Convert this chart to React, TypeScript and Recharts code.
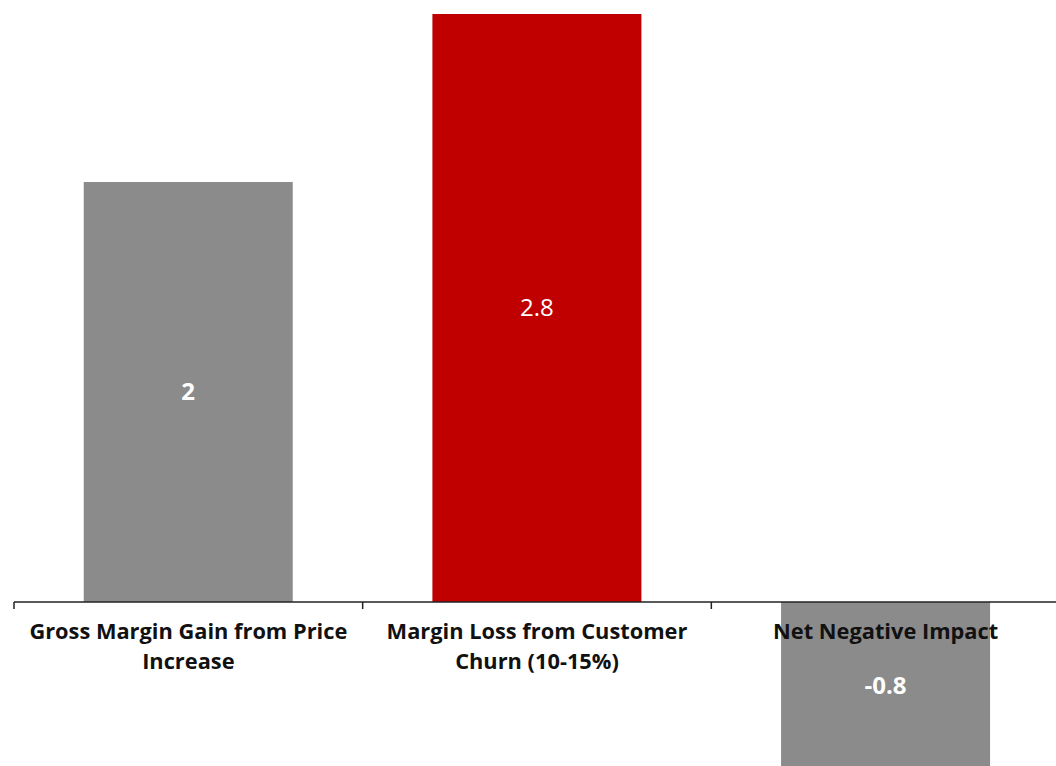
import React from "react";
import { BarChart, Bar, XAxis, YAxis, Cell, LabelList, ReferenceLine } from "recharts";

const categories = [
  "Gross Margin Gain from Price Increase",
  "Margin Loss from Customer Churn (10-15%)",
  "Net Negative Impact",
];
const categoryLines = [
  ["Gross Margin Gain from Price", "Increase"],
  ["Margin Loss from Customer", "Churn (10-15%)"],
  ["Net Negative Impact"],
];
const values = [2, 2.8, -0.8];
const valueLabels = ["2", "2.8", "-0.8"];
const barColors = ["#8b8b8b", "#c00000", "#8b8b8b"];
const labelWeights = [700, 400, 700];

const data = categories.map((c, i) => ({ name: c, value: values[i] }));

const LABEL_FONT = "'Open Sans', Lato, sans-serif";
const VALUE_FONT = "'Open Sans', 'Noto Sans', sans-serif";

function AxisDecor(props: any) {
  const vb = props.viewBox || {};
  const x0 = vb.x ?? 0;
  const y0 = vb.y ?? 0;
  const w = vb.width ?? 0;
  const n = categories.length;
  const band = w / n;
  const ticks = [];
  for (let i = 0; i <= n; i++) {
    const tx = x0 + band * i;
    ticks.push(<line key={"t" + i} x1={tx} x2={tx} y1={y0} y2={y0 + 7} stroke="#222" strokeWidth={1.5} />);
  }
  const texts = [];
  categoryLines.forEach((lines, i) => {
    lines.forEach((l, j) => {
      texts.push(
        <text
          key={"c" + i + "-" + j}
          x={x0 + band * (i + 0.5)}
          y={y0 + 37 + j * 30}
          textAnchor="middle"
          fontFamily={LABEL_FONT}
          fontWeight={700}
          fontSize={21.8}
          fill="#111"
        >
          {l}
        </text>
      );
    });
  });
  return (
    <g>
      {ticks}
      {texts}
    </g>
  );
}

function ValueLabel(props: any) {
  const { x, y, width, height, index } = props;
  const cx = Number(x) + Number(width) / 2;
  const cy = Number(y) + Number(height) / 2;
  return (
    <text
      x={cx}
      y={cy}
      dy={8}
      textAnchor="middle"
      fill="#ffffff"
      fontFamily={VALUE_FONT}
      fontWeight={labelWeights[index]}
      fontSize={24}
    >
      {valueLabels[index]}
    </text>
  );
}

export default function App() {
  return (
    <div style={{ position: "fixed", left: 0, top: 0, width: 1056, height: 766, overflow: "hidden", background: "#fff" }}>
      <BarChart
        width={1060}
        height={770}
        data={data}
        margin={{ top: 14, left: 14, right: 0, bottom: 0 }}
        barCategoryGap="20%"
      >
        <XAxis dataKey="name" hide />
        <YAxis hide domain={[-0.8, 2.8]} />
        <Bar dataKey="value" isAnimationActive={false}>
          {data.map((d, i) => (
            <Cell key={i} fill={barColors[i]} />
          ))}
          <LabelList dataKey="value" content={<ValueLabel />} />
        </Bar>
        <ReferenceLine
          y={0}
          stroke="#222"
          strokeWidth={1.5}
          isFront
          label={(p: any) => <AxisDecor {...p} />}
        />
      </BarChart>
    </div>
  );
}
